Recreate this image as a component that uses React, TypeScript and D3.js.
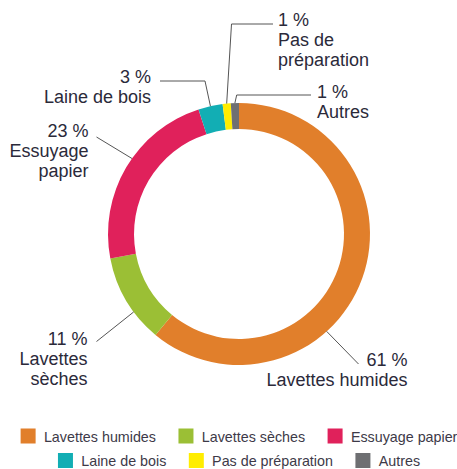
import React from "react";
import * as d3 from "d3";

const categories = ["Lavettes humides", "Lavettes sèches", "Essuyage papier", "Laine de bois", "Pas de préparation", "Autres"];
const values = [61, 11, 23, 3, 1, 1];
const colors = ["#E17F2B", "#9BBF35", "#E0215B", "#12AEB4", "#FFED00", "#6E6F72"];
const labelLines = [["Lavettes humides"], ["Lavettes", "sèches"], ["Essuyage", "papier"], ["Laine de bois"], ["Pas de", "préparation"], ["Autres"]];
const legendRows = [[0, 1, 2], [3, 4, 5]];

const W = 457, H = 469;
const CX = 239, CY = 234, R_OUT = 131, R_IN = 105;
const TEXT = "#2b2a3a";
const FONT = "'Liberation Sans', Arial, Helvetica, sans-serif";

// label layout: leader start angle (deg, null = slice centroid), leader path via points, text anchor and position
type LabelLayout = { angle: number | null; via: [number, number][]; x: number; y: number; anchor: "start" | "end" };
const layout: LabelLayout[] = [
  { angle: 138, via: [[358.5, 364]], x: 407.5, y: 365.5, anchor: "end" },
  { angle: 233.5, via: [[96.5, 341.5]], x: 87.5, y: 344.5, anchor: "end" },
  { angle: 305.2, via: [[96.5, 137]], x: 88.5, y: 136.5, anchor: "end" },
  { angle: null, via: [[205, 81], [160, 81]], x: 151, y: 83, anchor: "end" },
  { angle: null, via: [[231.5, 24], [273, 24]], x: 278, y: 25.5, anchor: "start" },
  { angle: null, via: [[236.7, 95], [311, 95]], x: 317, y: 97.5, anchor: "start" },
];

function measure(text: string, font: string): number {
  const c = document.createElement("canvas").getContext("2d");
  if (!c) return text.length * 7;
  c.font = font;
  return c.measureText(text).width;
}

export default function App() {
  const pie = d3.pie<number>().sort(null).value((d) => d)(values);
  const arc = d3.arc<d3.PieArcDatum<number>>().innerRadius(R_IN).outerRadius(R_OUT);
  const total = d3.sum(values);

  const legendFont = `14.3px ${FONT}`;
  const sq = 15, gapSq = 8.3, gapItem = 22.5;
  const legendY = [428.5, 453];

  return (
    <svg width={W} height={H} style={{ position: "absolute", left: 0, top: 0, background: "#fff" }} fontFamily={FONT}>
      <g transform={`translate(${CX},${CY})`}>
        {pie.map((p, i) => (
          <path key={i} d={arc(p) || ""} fill={colors[i]} />
        ))}
      </g>
      {layout.map((l, i) => {
        const p = pie[i];
        const a = l.angle !== null ? (l.angle * Math.PI) / 180 : (p.startAngle + p.endAngle) / 2;
        const sx = CX + R_OUT * Math.sin(a);
        const sy = CY - R_OUT * Math.cos(a);
        const pts: [number, number][] = [[sx, sy], ...l.via];
        const line = d3.line()(pts) || "";
        const pct = Math.round((values[i] / total) * 100);
        const lines = [`${pct} %`, ...labelLines[i]];
        return (
          <g key={i}>
            <path d={line} fill="none" stroke="#555" strokeWidth={1} />
            <text x={l.x} y={l.y} textAnchor={l.anchor} fontSize={18} fill={TEXT}>
              {lines.map((t, j) => (
                <tspan key={j} x={l.x} dy={j === 0 ? 0 : 20}>{t}</tspan>
              ))}
            </text>
          </g>
        );
      })}
      {legendRows.map((row, r) => {
        const widths = row.map((i) => measure(categories[i], legendFont));
        const total = d3.sum(widths) + row.length * (sq + gapSq) + (row.length - 1) * gapItem;
        let x = CX - total / 2;
        return (
          <g key={r}>
            {row.map((i, k) => {
              const x0 = x;
              x += sq + gapSq + widths[k] + gapItem;
              return (
                <g key={i}>
                  <rect x={x0} y={legendY[r]} width={sq} height={sq} fill={colors[i]} />
                  <text x={x0 + sq + gapSq} y={legendY[r] + 13.2} fontSize={14.3} fill="#3d3a48">{categories[i]}</text>
                </g>
              );
            })}
          </g>
        );
      })}
    </svg>
  );
}
